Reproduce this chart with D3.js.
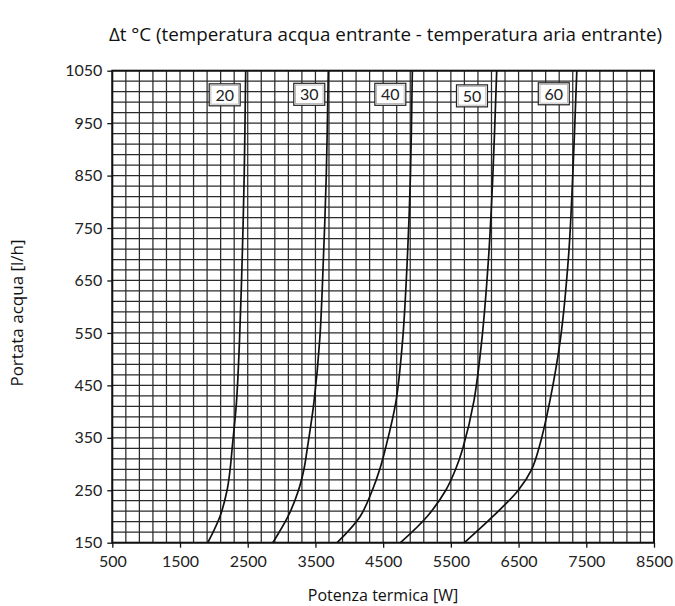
<!DOCTYPE html>
<html><head><meta charset="utf-8">
<script src="https://cdn.jsdelivr.net/npm/d3@7"></script>
<style>body{margin:0;background:#fff}svg{display:block}</style>
</head><body>
<svg id="c" width="675" height="606"></svg>
<script>
const deltaT = ["20","30","40","50","60"];
const flow = [150,200,250,290,330,420,540,700,850,1050];
const power20 = [1910,2090,2195,2240,2270,2335,2380,2420,2448,2470];
const power30 = [2870,3095,3250,3330,3380,3480,3565,3620,3660,3690];
const power40 = [3820,4160,4340,4450,4535,4690,4790,4860,4903,4931];
const power50 = [4755,5150,5425,5570,5677,5840,5960,6060,6120,6177];
const power60 = [5700,6120,6496,6694,6800,6962,7120,7240,7300,7360];
const xTicks = [500,1500,2500,3500,4500,5500,6500,7500,8500];
const yTicks = [150,250,350,450,550,650,750,850,950,1050];
const labelPower = [2160,3409,4606,5812,7020];
const labelFlow = [1004,1005,1005,1002,1006];
const title = "Δt °C (temperatura acqua entrante - temperatura aria entrante)";
const xTitle = "Potenza termica [W]";
const yTitle = "Portata acqua [l/h]";

const series = [power20,power30,power40,power50,power60];
const svg = d3.select("#c");
const x = d3.scaleLinear().domain([500,8500]).range([112.3,654]);
const y = d3.scaleLinear().domain([150,1050]).range([542.7,70.7]);

const g = svg.append("g");
// grid
g.append("g").selectAll("line").data(d3.range(500,8501,200)).join("line")
  .attr("x1",d=>x(d)).attr("x2",d=>x(d)).attr("y1",y(150)).attr("y2",y(1050))
  .attr("stroke","#2a2a2a").attr("stroke-width",1.25);
g.append("g").selectAll("line").data(d3.range(150,1051,20)).join("line")
  .attr("y1",d=>y(d)).attr("y2",d=>y(d)).attr("x1",x(500)).attr("x2",x(8500))
  .attr("stroke","#2a2a2a").attr("stroke-width",1.25);

// axes
const fmt = d3.format("d");
const xAxis = d3.axisBottom(x).tickValues(xTicks).tickFormat(fmt).tickSize(5).tickSizeOuter(0).tickPadding(7);
const yAxis = d3.axisLeft(y).tickValues(yTicks).tickFormat(fmt).tickSize(5).tickSizeOuter(0).tickPadding(5);
const gx = svg.append("g").attr("transform",`translate(0,${y(150)})`).call(xAxis);
const gy = svg.append("g").attr("transform",`translate(${x(500)},0)`).call(yAxis);
[gx,gy].forEach(a=>{
  a.select(".domain").remove();
  a.selectAll("line").attr("stroke","#111").attr("stroke-width",1.3);
  a.selectAll("text").attr("font-family","Lato, 'Open Sans', sans-serif").attr("font-size",16).attr("fill","#222");
});
gx.selectAll("text").attr("dy","0.75em");
// frame
svg.append("rect").attr("x",x(500)).attr("y",y(1050)).attr("width",x(8500)-x(500)).attr("height",y(150)-y(1050))
  .attr("fill","none").attr("stroke","#111").attr("stroke-width",2);

// curves
const line = d3.line().x(d=>x(d[0])).y(d=>y(d[1])).curve(d3.curveCatmullRom.alpha(0.5));
svg.append("g").selectAll("path").data(series).join("path")
  .attr("d",s=>line(s.map((p,i)=>[p,flow[i]])))
  .attr("fill","none").attr("stroke","#111").attr("stroke-width",1.7);

// labels
const lg = svg.append("g").selectAll("g").data(deltaT).join("g")
  .attr("transform",(d,i)=>`translate(${x(labelPower[i])},${y(labelFlow[i])})`);
lg.append("rect").attr("x",-15.5).attr("y",-11).attr("width",31).attr("height",22)
  .attr("fill","#fff").attr("stroke","#222").attr("stroke-width",1.2);
lg.append("rect").attr("x",-13.8).attr("y",-9.3).attr("width",27.6).attr("height",18.6)
  .attr("fill","none").attr("stroke","#aaa").attr("stroke-width",0.8);
lg.append("text").text(d=>d).attr("text-anchor","middle").attr("dy","0.36em")
  .attr("font-family","Lato, 'Open Sans', sans-serif").attr("font-size",16).attr("fill","#222");

// titles
svg.append("text").text(title).attr("x",385.5).attr("y",41).attr("text-anchor","middle")
  .attr("font-family","Open Sans").attr("font-size",18.8).attr("fill","#111");
svg.append("text").text(xTitle).attr("x",383).attr("y",601).attr("text-anchor","middle")
  .attr("font-family","Open Sans").attr("font-size",16).attr("fill","#111");
svg.append("text").text(yTitle).attr("transform","translate(23,313) rotate(-90)").attr("text-anchor","middle")
  .attr("font-family","Open Sans").attr("font-size",17).attr("fill","#111");
</script>
</body></html>
